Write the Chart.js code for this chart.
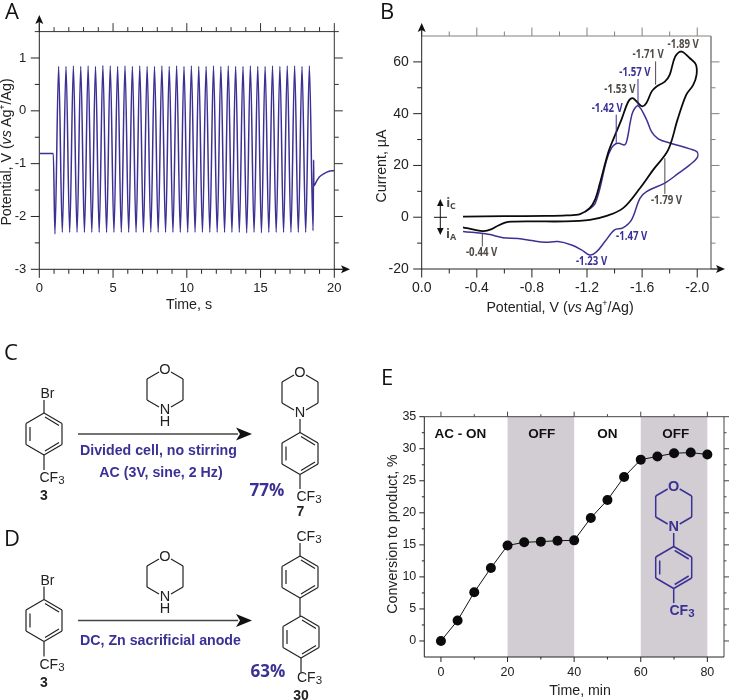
<!DOCTYPE html>
<html>
<head>
<meta charset="utf-8">
<title>AC electrolysis figure</title>
<script src="https://cdn.jsdelivr.net/npm/chart.js@4"></script>
<style>
  html, body { margin: 0; padding: 0; background: #fff; overflow: hidden; }
  #page { position: relative; width: 729px; height: 700px; font-family: "Liberation Sans", Arial, sans-serif; color: #222; }
  canvas { position: absolute; }
  svg { position: absolute; left: 0; top: 0; }
  .title { position: absolute; font-size: 14.2px; white-space: nowrap; transform: translate(-50%, -50%); }
  .rot { transform: translate(-50%, -50%) rotate(-90deg); }
  .title sup { font-size: 9px; line-height: 0; }
  .letter { position: absolute; font-family: "Open Sans", sans-serif; font-size: 22px; line-height: 22px; color: #111; transform: translate(-50%, -50%); }
</style>
</head>
<body>
<div id="page">
  <canvas id="chartA" width="365" height="320" style="left:0;top:0"></canvas>
  <canvas id="chartB" width="364" height="320" style="left:365px;top:0"></canvas>
  <canvas id="chartE" width="364" height="340" style="left:365px;top:360px"></canvas>
  <svg id="chem" width="729" height="700"></svg>

  <div class="letter" style="left:12px;top:10px">A</div>
  <div class="letter" style="left:387px;top:10px">B</div>
  <div class="letter" style="left:11px;top:351px">C</div>
  <div class="letter" style="left:12px;top:537px">D</div>
  <div class="letter" style="left:387px;top:376px">E</div>

  <div class="title" style="left:189px;top:304px">Time, s</div>
  <div class="title rot" style="left:6px;top:152px">Potential, V (<i>vs</i> Ag<sup>+</sup>/Ag)</div>
  <div class="title" style="left:560px;top:307px">Potential, V (<i>vs</i> Ag<sup>+</sup>/Ag)</div>
  <div class="title rot" style="left:381px;top:166px">Current, µA</div>
  <div class="title" style="left:580px;top:690px">Time, min</div>
  <div class="title rot" style="left:392px;top:534px">Conversion to product, %</div>
</div>

<script>
// ---------- colours ----------
var blue = '#3b3194'
var ink = '#222222'
var greyInk = '#4f4a46'
var band = '#d1cdd3'

// ---------- panel A: applied potential, every turning point of the wave ----------
var acTime = [0, 0.95, 1.06, 1.31, 1.56, 1.81, 2.06, 2.31, 2.56, 2.81, 3.06, 3.31, 3.56, 3.81, 4.06, 4.31, 4.56, 4.81,
  5.06, 5.31, 5.56, 5.81, 6.06, 6.31, 6.56, 6.81, 7.06, 7.31, 7.56, 7.81, 8.06, 8.31, 8.56, 8.81, 9.06, 9.31, 9.56, 9.81,
  10.06, 10.31, 10.56, 10.81, 11.06, 11.31, 11.56, 11.81, 12.06, 12.31, 12.56, 12.81, 13.06, 13.31, 13.56, 13.81,
  14.06, 14.31, 14.56, 14.81, 15.06, 15.31, 15.56, 15.81, 16.06, 16.31, 16.56, 16.81, 17.06, 17.31, 17.56, 17.81,
  18.06, 18.31, 18.56, 18.6, 18.61, 18.8, 19, 19.3, 19.6, 20]
var acVolt = [-0.81, -0.81, -2.33, 0.84, -2.3, 0.84, -2.3, 0.85, -2.3, 0.84, -2.3, 0.85, -2.3, 0.84, -2.3, 0.86, -2.3, 0.85,
  -2.3, 0.84, -2.3, 0.85, -2.3, 0.84, -2.3, 0.85, -2.3, 0.84, -2.3, 0.84, -2.3, 0.85, -2.3, 0.84, -2.3, 0.85, -2.3, 0.84,
  -2.3, 0.85, -2.3, 0.84, -2.3, 0.84, -2.3, 0.85, -2.3, 0.84, -2.3, 0.85, -2.3, 0.84, -2.3, 0.84,
  -2.31, 0.85, -2.3, 0.84, -2.31, 0.84, -2.3, 0.85, -2.3, 0.84, -2.3, 0.85, -2.3, 0.85, -2.3, 0.84,
  -2.3, 0.85, -2.27, -0.93, -1.42, -1.33, -1.25, -1.19, -1.15, -1.13]
var aXTicks = [0, 5, 10, 15, 20]
var aXMinor = [1, 2, 3, 4, 6, 7, 8, 9, 11, 12, 13, 14, 16, 17, 18, 19]
var aYTicks = [-3, -2, -1, 0, 1]
var aYMinor = [-2.5, -1.5, -0.5, 0.5]

// ---------- panel B: cyclic voltammograms, in scan order ----------
var blackV = [-0.3, -0.6, -0.9, -1.05, -1.15, -1.221, -1.26, -1.293, -1.354, -1.39, -1.45, -1.5, -1.53, -1.56, -1.6, -1.63, -1.67, -1.705, -1.765, -1.8, -1.84, -1.885, -1.945, -1.99,
  -1.995, -1.97, -1.92, -1.857, -1.789, -1.68, -1.584, -1.462, -1.342, -1.221, -1.04, -0.8, -0.653, -0.605, -0.556, -0.508, -0.447, -0.387, -0.3]
var blackI = [0.2, 0.4, 0.5, 0.7, 1.2, 3.6, 7, 13, 25, 30, 37.7, 44.7, 46, 44.7, 42.8, 44, 48.6, 50.5, 52.4, 55, 62, 64, 61.5, 59,
  55, 51, 47.3, 37.7, 26, 18.3, 11.2, 3.5, 0.5, -1, -1.6, -1.6, -1.7, -2.1, -3.2, -4.6, -5.4, -4.9, -3.9]
var blueV = [-1.185, -1.26, -1.342, -1.378, -1.41, -1.43, -1.475, -1.495, -1.515, -1.535, -1.572, -1.632, -1.669, -1.717, -1.8, -1.946, -1.998,
  -2, -1.946, -1.86, -1.765, -1.632, -1.584, -1.523, -1.46, -1.4, -1.33, -1.27, -1.22, -1.16, -1.088, -0.99, -0.895, -0.798, -0.7, -0.59, -0.484, -0.3]
var blueI = [2, 5.4, 22, 26.8, 28.4, 28.6, 28, 31, 37, 41, 43, 37.7, 33, 30.3, 28.7, 26.4, 25.3,
  23, 20.2, 16.8, 13.2, 9.9, 7.3, -1, -4.1, -4.9, -9.4, -13.3, -14.6, -12.6, -10.7, -9.4, -9.7, -9, -8.2, -7.9, -6.6, -5.5]
var bXTicks = [0, -0.4, -0.8, -1.2, -1.6, -2]
var bXMinor = [-0.2, -0.6, -1, -1.4, -1.8]
var bYTicks = [-20, 0, 20, 40, 60]
var bYMinor = [-10, 10, 30, 50]

var peakText = ['-1.89 V', '-1.71 V', '-1.57 V', '-1.53 V', '-1.42 V', '-1.79 V', '-1.47 V', '-1.23 V', '-0.44 V']
var peakTextV = [-1.898, -1.644, -1.548, -1.439, -1.347, -1.777, -1.524, -1.233, -0.435]
var peakTextI = [66.6, 62.6, 55.8, 49.2, 42, 6.4, -7.5, -17.1, -13.9]
var peakIsBlue = [false, false, true, false, true, false, true, true, false]
var leaderV = [-1.698, -1.57, -1.412, -1.765, -0.44]
var leaderFrom = [60.2, 53.4, 39.6, 22.8, -6.4]
var leaderTo = [51.2, 43, 28.2, 9, -11.3]
var leaderIsBlue = [false, true, true, false, false]

// ---------- panel E: conversion against time ----------
var minutes = [0, 5, 10, 15, 20, 25, 30, 35, 40, 45, 50, 55, 60, 65, 70, 75, 80]
var conversion = [0, 3.2, 7.6, 11.4, 14.9, 15.4, 15.5, 15.65, 15.7, 19.2, 22, 25.6, 28.3, 28.8, 29.3, 29.4, 29.1]
var eXTicks = [0, 20, 40, 60, 80]
var eXMinor = [10, 30, 50, 70]
var eYTicks = [0, 5, 10, 15, 20, 25, 30, 35]
var eYMinor = [2.5, 7.5, 12.5, 17.5, 22.5, 27.5, 32.5]
var offBands = [[20, 40], [60, 80]]
var stateText = ['AC - ON', 'OFF', 'ON', 'OFF']
var stateX = [5.8, 30.3, 50, 70.5]

function toPoints(xs, ys) {
  return xs.map((x, i) => ({ x: x, y: ys[i] }))
}

function arrowHead(ctx, x, y, dx, dy) {
  // solid arrow head with its tip on x,y
  ctx.save()
  ctx.translate(x, y)
  ctx.rotate(Math.atan2(dy, dx))
  ctx.fillStyle = '#111'
  ctx.beginPath()
  ctx.moveTo(0, 0)
  ctx.lineTo(-9, -4)
  ctx.lineTo(-7, 0)
  ctx.lineTo(-9, 4)
  ctx.closePath()
  ctx.fill()
  ctx.restore()
}

// axes are drawn here so the long and short ticks can differ, positions come from the scales
var framePlugin = {
  id: 'frame',
  beforeDatasetsDraw(chart, args, o) {
    var ctx = chart.ctx, a = chart.chartArea, sx = chart.scales.x, sy = chart.scales.y
    var big = o.big || 8.5, small = o.small || 4.5
    ctx.save()
    if (o.bands) {
      ctx.fillStyle = band
      o.bands.forEach(b => {
        var x1 = sx.getPixelForValue(b[0]), x2 = sx.getPixelForValue(b[1])
        ctx.fillRect(x1, a.top, x2 - x1, a.bottom - a.top)
      })
    }
    function line(x1, y1, x2, y2, col, w) {
      ctx.strokeStyle = col
      ctx.lineWidth = w || 1
      ctx.beginPath()
      ctx.moveTo(x1, y1)
      ctx.lineTo(x2, y2)
      ctx.stroke()
    }
    // top and right side first
    line(a.left - (o.topOver || 0), a.top, a.right + (o.topOver || 0), a.top, o.farColor)
    line(a.right, a.top, a.right, a.bottom, o.farColor, o.rightWidth)
    o.xMajor.forEach(v => {
      var p = sx.getPixelForValue(v)
      line(p, a.top, p, a.top - big, o.farColor)
      line(p, a.bottom, p, a.bottom + big, ink)
    })
    o.xMinor.forEach(v => {
      var p = sx.getPixelForValue(v)
      line(p, a.top, p, a.top - small, o.farColor)
      line(p, a.bottom, p, a.bottom + small, ink)
    })
    o.yMajor.forEach(v => {
      var p = sy.getPixelForValue(v)
      line(a.left, p, a.left - big, p, ink)
      line(a.right, p, a.right + big, p, o.farColor)
    })
    o.yMinor.forEach(v => {
      var p = sy.getPixelForValue(v)
      line(a.left, p, a.left - small, p, ink)
      line(a.right, p, a.right + small, p, o.farColor)
    })
    // left and bottom with their arrows
    if (o.arrowTop !== undefined) {
      line(a.left, a.bottom, a.left, o.arrowTop + 6, ink)
      arrowHead(ctx, a.left, o.arrowTop, 0, -1)
    } else {
      line(a.left, a.bottom, a.left, a.top, ink)
    }
    if (o.arrowRight !== undefined) {
      line(a.left, a.bottom, o.arrowRight - 6, a.bottom, ink)
      arrowHead(ctx, o.arrowRight, a.bottom, 1, 0)
    } else {
      line(a.left, a.bottom, a.right, a.bottom, ink)
    }
    ctx.restore()
  }
}

// peak labels of panel B, placed in data units
var peakPlugin = {
  id: 'peaks',
  afterDatasetsDraw(chart) {
    var ctx = chart.ctx, sx = chart.scales.x, sy = chart.scales.y
    ctx.save()
    ctx.lineWidth = 1
    leaderV.forEach((v, i) => {
      ctx.strokeStyle = leaderIsBlue[i] ? blue : greyInk
      ctx.beginPath()
      ctx.moveTo(sx.getPixelForValue(v), sy.getPixelForValue(leaderFrom[i]))
      ctx.lineTo(sx.getPixelForValue(v), sy.getPixelForValue(leaderTo[i]))
      ctx.stroke()
    })
    ctx.font = 'bold 11.5px "Open Sans"'
    ctx.textAlign = 'center'
    ctx.textBaseline = 'middle'
    peakText.forEach((t, i) => {
      // the labels are set in a narrow face in the original
      ctx.save()
      ctx.translate(sx.getPixelForValue(peakTextV[i]), sy.getPixelForValue(peakTextI[i]))
      ctx.scale(0.84, 1)
      ctx.fillStyle = peakIsBlue[i] ? blue : greyInk
      ctx.fillText(t, 0, 0)
      ctx.restore()
    })
    ctx.restore()
  }
}

// ON / OFF words of panel E
var statePlugin = {
  id: 'states',
  afterDatasetsDraw(chart) {
    var ctx = chart.ctx, sx = chart.scales.x, sy = chart.scales.y
    ctx.save()
    ctx.font = 'bold 13.5px "Liberation Sans"'
    ctx.fillStyle = '#111'
    ctx.textAlign = 'center'
    ctx.textBaseline = 'middle'
    stateText.forEach((t, i) => ctx.fillText(t, sx.getPixelForValue(stateX[i]), sy.getPixelForValue(32.2)))
    ctx.restore()
  }
}

function axis(min, max, ticks, width, height, padding, fmt, size, reverse) {
  return {
    type: 'linear', min: min, max: max, reverse: !!reverse,
    grid: { display: false, drawTicks: false },
    border: { display: false },
    afterBuildTicks: s => { s.ticks = ticks.map(v => ({ value: v })) },
    afterFit: s => {
      if (width) s.width = width
      if (height) s.height = height
    },
    ticks: {
      autoSkip: false, maxRotation: 0, padding: padding, color: '#222',
      font: { family: 'Liberation Sans', size: size },
      callback: fmt || (v => String(v))
    }
  }
}

function makeChart(id, datasets, x, y, padding, frame, plugins) {
  return new Chart(document.getElementById(id), {
    type: 'scatter',
    data: { datasets: datasets },
    options: {
      responsive: false,
      animation: false,
      devicePixelRatio: 1,
      layout: { padding: padding },
      scales: { x: x, y: y },
      plugins: { legend: { display: false }, tooltip: { enabled: false }, title: { display: false }, frame: frame }
    },
    plugins: plugins
  })
}

makeChart('chartA',
  [{ data: toPoints(acTime, acVolt), showLine: true, cubicInterpolationMode: 'monotone', borderColor: blue, borderWidth: 1.5, pointRadius: 0 }],
  axis(0, 20, aXTicks, 0, 50.7, 11, null, 13),
  axis(-3, 1.5, aYTicks, 39.3, 0, 13, null, 13),
  { left: 0, top: 31.6, right: 30.7, bottom: 0 },
  { xMajor: aXTicks, xMinor: aXMinor, yMajor: aYTicks, yMinor: aYMinor, farColor: '#333', topOver: 4.5, arrowTop: 15, arrowRight: 350 },
  [framePlugin])

makeChart('chartB',
  [{ data: toPoints(blackV, blackI), showLine: true, tension: 0.35, borderColor: '#0b0b0b', borderWidth: 1.8, pointRadius: 0 },
   { data: toPoints(blueV, blueI), showLine: true, tension: 0.35, borderColor: blue, borderWidth: 1.5, pointRadius: 0 }],
  axis(-2.1, 0, bXTicks, 0, 51, 11, v => v.toFixed(1), 14, true),
  axis(-20, 70, bYTicks, 56.7, 0, 13, null, 14),
  { left: 0, top: 36, right: 18, bottom: 0 },
  { xMajor: bXTicks, xMinor: bXMinor, yMajor: bYTicks, yMinor: bYMinor, farColor: '#808080', rightWidth: 1.5, arrowTop: 23, arrowRight: 360 },
  [framePlugin, peakPlugin])

makeChart('chartE',
  [{ data: toPoints(minutes, conversion), showLine: true, tension: 0, borderColor: '#111', borderWidth: 1, pointRadius: 5, pointBackgroundColor: '#0b0b0b', pointBorderColor: '#0b0b0b', pointBorderWidth: 0 }],
  axis(-5, 85, eXTicks, 0, 43, 8, null, 12.5),
  axis(-2.5, 35, eYTicks, 59.3, 0, 8, null, 12.5),
  { left: 0, top: 56.7, right: 4.7, bottom: 0 },
  { xMajor: eXTicks, xMinor: eXMinor, yMajor: eYTicks, yMinor: eYMinor, big: 5, small: 2.5, farColor: '#444', bands: offBands },
  [framePlugin, statePlugin])

// ---------- chemical structures and reaction schemes ----------
var svg = ''
function bond(x1, y1, x2, y2, col, w) {
  svg += '<line x1="' + x1 + '" y1="' + y1 + '" x2="' + x2 + '" y2="' + y2 + '" stroke="' + col + '" stroke-width="' + (w || 1.2) + '"/>'
}
function label(txt, x, y, col, size, weight, family, anchor) {
  svg += '<text x="' + x + '" y="' + y + '" fill="' + col + '" font-size="' + size + '" font-weight="' + (weight || 'normal') + '" font-family="' + (family || 'Liberation Sans') + '" text-anchor="' + (anchor || 'middle') + '" dominant-baseline="central">' + txt + '</text>'
}
function cf3(x, y, col, w) {
  label('CF<tspan dy="3" font-size="11.5">3</tspan>', x, y, col, 14, w)
}
// benzene ring, cx/cy is the centre
function ring(cx, cy, col, w) {
  var dx = 18, up = 21, side = 10.5
  var p = [[cx, cy - up], [cx + dx, cy - side], [cx + dx, cy + side], [cx, cy + up], [cx - dx, cy + side], [cx - dx, cy - side]]
  p.forEach((a, i) => { var b = p[(i + 1) % 6]; bond(a[0], a[1], b[0], b[1], col, w) })
  bond(cx + 1, cy - up + 4, cx + dx - 3, cy - side + 2, col, w)
  bond(cx + 1, cy + up - 4, cx + dx - 3, cy + side - 2, col, w)
  bond(cx - dx + 4, cy - 7, cx - dx + 4, cy + 7, col, w)
}
// morpholine ring, x/y is the centre of the O atom
function morpholine(x, y, col, w, bold) {
  label('O', x, y, col, 14.5, bold)
  bond(x - 6, y + 3, x - 18, y + 10, col, w)
  bond(x + 6, y + 3, x + 18, y + 10, col, w)
  bond(x - 18, y + 10, x - 18, y + 31, col, w)
  bond(x + 18, y + 10, x + 18, y + 31, col, w)
  bond(x - 18, y + 31, x - 6, y + 38, col, w)
  bond(x + 18, y + 31, x + 6, y + 38, col, w)
  label('N', x, y + 40, col, 14.5, bold)
}
function aryl(x, y) {
  // para-bromo(trifluoromethyl)benzene, x/y is the ring centre
  label('Br', x + 3.5, y - 41, ink, 14)
  bond(x, y - 21, x, y - 34, ink)
  ring(x, y, ink)
  bond(x, y + 21, x, y + 36, ink)
  cf3(x + 8, y + 43, ink)
  label('3', x, y + 61, ink, 14, 'bold')
}
function reactionArrow(y) {
  bond(78, y, 238, y, '#444', 1.6)
  svg += '<polygon points="252,' + y + ' 236,' + (y - 6.5) + ' 240,' + y + ' 236,' + (y + 6.5) + '" fill="#111"/>'
}

// C
aryl(44, 434)
morpholine(165, 369, ink)
label('H', 165, 421, ink, 14.5)
reactionArrow(434)
label('Divided cell, no stirring', 158.5, 450, blue, 14.2, 'bold')
label('AC (3V, sine, 2 Hz)', 161, 472, blue, 14.2, 'bold')
label('77%', 267, 489.5, blue, 17, 'bold', 'Open Sans')
morpholine(300, 372, ink)
bond(300, 419, 300, 433, ink)
ring(300, 453.5, ink)
bond(300, 474.5, 300, 489, ink)
cf3(309, 496, ink)
label('7', 300.5, 511, ink, 14, 'bold')

// D
aryl(44, 620.5)
morpholine(165, 556, ink)
label('H', 165, 607.5, ink, 14.5)
reactionArrow(620.5)
label('DC, Zn sacrificial anode', 160.5, 639.5, blue, 14.2, 'bold')
label('63%', 268, 670, blue, 17, 'bold', 'Open Sans')
cf3(309, 536, ink)
bond(300, 543, 300, 556, ink)
ring(300, 577, ink)
bond(300, 598, 300, 616, ink)
ring(301, 637, ink)
bond(301, 658, 301, 672, ink)
cf3(309.5, 677, ink)
label('30', 301, 695, ink, 14, 'bold')

// E, product drawn inside the second OFF band
morpholine(673.7, 486, blue, 1.5, 'bold')
bond(673.7, 533, 673.7, 547, blue, 1.5)
ring(673.7, 567.5, blue, 1.5)
bond(673.7, 588.5, 673.7, 603, blue, 1.5)
cf3(682, 610, blue, 'bold')

// current direction marker of panel B
bond(440.3, 204, 440.3, 231, '#111', 1)
bond(434, 217.3, 447, 217.3, '#111', 1)
svg += '<polygon points="440.3,199 437,206 443.6,206" fill="#111"/><polygon points="440.3,235 437,228 443.6,228" fill="#111"/>'
label('i<tspan dy="3" font-size="9">C</tspan>', 451, 202, greyInk, 13, 'bold', 'Open Sans')
label('i<tspan dy="3" font-size="9">A</tspan>', 451, 233, greyInk, 13, 'bold', 'Open Sans')

document.getElementById('chem').innerHTML = svg
</script>
</body>
</html>
